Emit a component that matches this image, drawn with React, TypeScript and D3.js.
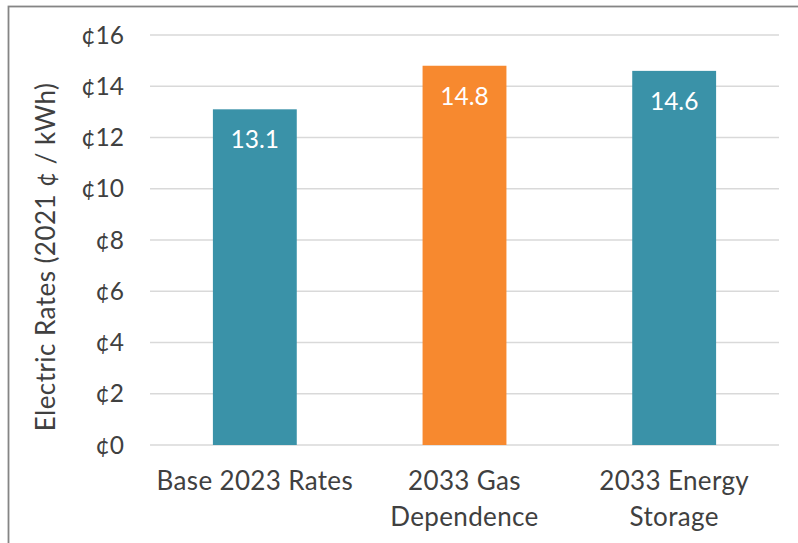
import React from "react";
import * as d3 from "d3";

const categories: string[][] = [["Base 2023 Rates"], ["2033 Gas", "Dependence"], ["2033 Energy", "Storage"]];
const values: number[] = [13.1, 14.8, 14.6];
const barColors: string[] = ["#3A92A8", "#F7892F", "#3A92A8"];
const yTicks: number[] = [0, 2, 4, 6, 8, 10, 12, 14, 16];
const yTitle = "Electric Rates (2021 ¢ / kWh)";

const W = 798;
const H = 543;
const FONT = "Lato, 'Open Sans', sans-serif";
const TEXT = "#404040";

export default function App() {
  const x = d3
    .scaleBand<number>()
    .domain(values.map((_, i) => i))
    .range([150, 779])
    .paddingInner(0.6)
    .paddingOuter(0.3);
  const y = d3.scaleLinear().domain([0, 16]).range([445, 35]);

  return (
    <svg
      width={W}
      height={H}
      style={{ position: "absolute", left: 0, top: 0, background: "#fff" }}
      fontFamily={FONT}
    >
      <rect x={0} y={0} width={W} height={H} fill="#fff" />
      <rect x={8.5} y={6.5} width={900} height={700} fill="none" stroke="#858585" strokeWidth={1.8} />
      {yTicks.map((t) => (
        <g key={t}>
          <line x1={150} x2={779} y1={y(t)} y2={y(t)} stroke="#d9d9d9" strokeWidth={1.5} />
          <text x={124} y={y(t)} dy="0.35em" textAnchor="end" fontSize={24.5} fill={TEXT}>
            {"¢" + t}
          </text>
        </g>
      ))}
      {values.map((v, i) => (
        <g key={i}>
          <rect x={x(i)} y={y(v)} width={x.bandwidth()} height={y(0) - y(v)} fill={barColors[i]} />
          <text
            x={(x(i) as number) + x.bandwidth() / 2}
            y={y(v) + 39}
            textAnchor="middle"
            fontSize={24.5}
            fill="#fff"
          >
            {v.toFixed(1)}
          </text>
          {categories[i].map((line, j) => (
            <text
              key={j}
              x={(x(i) as number) + x.bandwidth() / 2}
              y={490 + j * 36}
              textAnchor="middle"
              fontSize={26}
              letterSpacing={0.35}
              fill={TEXT}
            >
              {line}
            </text>
          ))}
        </g>
      ))}
      <text
        transform={`translate(55, 257) rotate(-90)`}
        textAnchor="middle"
        fontSize={26}
        letterSpacing={0.45}
        fill={TEXT}
      >
        {yTitle}
      </text>
    </svg>
  );
}
